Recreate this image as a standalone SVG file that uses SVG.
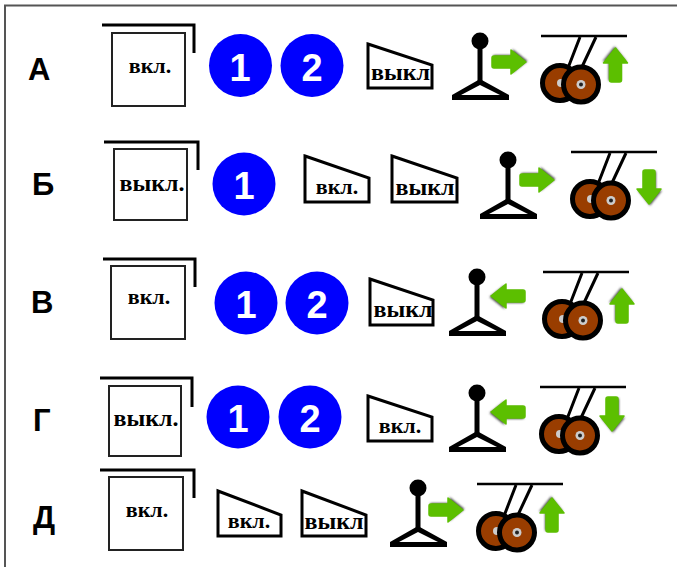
<svg xmlns="http://www.w3.org/2000/svg" width="677" height="567" viewBox="0 0 677 567">
<style>
.row{font-family:"Liberation Sans",Arial,sans-serif;font-weight:700;font-size:31px;fill:#000}
.num{font-family:"Liberation Sans",Arial,sans-serif;font-weight:700;font-size:38px;fill:#fff;text-anchor:middle}
.lbl{font-family:"Liberation Serif","Times New Roman",serif;font-weight:700;font-size:22px;fill:#000;text-anchor:middle}
.wide{font-size:24px}
.dot{fill:#0000fe}
.hood{fill:none;stroke:#000;stroke-width:3}
.box{fill:#fff;stroke:#222;stroke-width:2}
.wedge{fill:#fff;stroke:#000;stroke-width:3}
.frame{fill:none;stroke:#555;stroke-width:2}
</style>
<defs>
<filter id="soft" x="-20%" y="-20%" width="140%" height="140%"><feGaussianBlur stdDeviation="1"/></filter>
<g id="arrow">
<path d="M-17-6H2V-12L17 0 2 12V6H-17Z" fill="#444" filter="url(#soft)" transform="translate(1.5,-1)"/>
<path d="M-15-6H2V-12L17 0 2 12V6H-15Q-17 6-17 4V-4Q-17-6-15-6Z" fill="#5cbf00" stroke="#5cbf00" stroke-width="1.5" stroke-linejoin="round"/>
</g>
<g id="lever">
<circle cx="0" cy="0" r="8.5" fill="#000"/>
<path d="M0 0V41" stroke="#000" stroke-width="5" fill="none"/>
<path fill-rule="evenodd" d="M-28 59V54L0 38 29 54V59ZM-19 54H20L0 44Z" fill="#000"/>
</g>
<g id="gear">
<path d="M0 0H86" stroke="#000" stroke-width="2.5"/>
<path d="M39 1 27 32M55 1 40 33" stroke="#000" stroke-width="3" fill="none"/>
<circle cx="19" cy="47" r="17.5" fill="#993d00" stroke="#000" stroke-width="5"/>
<circle cx="20" cy="47" r="4" fill="#ccc"/>
<circle cx="40" cy="48.500" r="17.500" fill="#993d00" stroke="#000" stroke-width="5"/>
<circle cx="40" cy="48.500" r="4.500" fill="#ccc"/>
<circle cx="40" cy="48.500" r="2" fill="#222"/>
</g>
</defs>
<rect width="677" height="567" fill="#fff"/>
<path class="frame" d="M677 5.500H5V567"/>

<g id="row-a">
<text class="row" x="28" y="80">А</text>
<path class="hood" d="M102 25H194V53"/><rect class="box" x="112" y="33" width="73" height="73"/>
<text class="lbl" x="150" y="73">вкл.</text>
<circle class="dot" cx="240.500" cy="65.500" r="31.500"/><text class="num" x="240" y="81">1</text>
<circle class="dot" cx="312" cy="65.500" r="31.500"/><text class="num" x="312" y="81">2</text>
<path class="wedge" d="M368 44 432 65V88H368Z"/><text class="lbl wide" x="400.500" y="80">выкл</text>
<use href="#lever" x="480" y="41"/><use href="#arrow" transform="translate(509,62)"/>
<use href="#gear" x="541" y="36"/><use href="#arrow" transform="translate(615.500,65) rotate(-90)"/>
</g>

<g id="row-b">
<text class="row" x="32" y="195">Б</text>
<path class="hood" d="M104 142H198V170"/><rect class="box" x="114" y="149" width="73" height="71"/>
<text class="lbl wide" x="152" y="191">выкл.</text>
<circle class="dot" cx="244" cy="184" r="31.500"/><text class="num" x="244" y="199">1</text>
<path class="wedge" d="M305 156 369 178V202H305Z"/><text class="lbl" x="337" y="194">вкл.</text>
<path class="wedge" d="M392 156 457 178V202H392Z"/><text class="lbl wide" x="425" y="195">выкл</text>
<use href="#lever" x="508" y="160"/><use href="#arrow" transform="translate(537,180)"/>
<use href="#gear" x="571" y="152"/><use href="#arrow" transform="translate(649,187) rotate(90)"/>
</g>

<g id="row-c">
<text class="row" x="31" y="313">В</text>
<path class="hood" d="M103 259H195V287"/><rect class="box" x="111" y="266" width="74" height="73"/>
<text class="lbl" x="149" y="304">вкл.</text>
<circle class="dot" cx="246" cy="303" r="31.500"/><text class="num" x="246" y="318">1</text>
<circle class="dot" cx="317" cy="303" r="31.500"/><text class="num" x="317" y="318">2</text>
<path class="wedge" d="M370 279 433 300V325H370Z"/><text class="lbl wide" x="403" y="317">выкл</text>
<use href="#lever" x="477" y="277"/><use href="#arrow" transform="translate(508,296) rotate(180)"/>
<use href="#gear" x="543" y="272"/><use href="#arrow" transform="translate(622,306) rotate(-90)"/>
</g>

<g id="row-d">
<text class="row" x="33" y="431">Г</text>
<path class="hood" d="M100 378H192V407"/><rect class="box" x="109" y="386" width="72" height="70"/>
<text class="lbl wide" x="146" y="426">выкл.</text>
<circle class="dot" cx="238" cy="417" r="31.500"/><text class="num" x="238" y="432">1</text>
<circle class="dot" cx="310" cy="417" r="31.500"/><text class="num" x="310" y="432">2</text>
<path class="wedge" d="M368 396 432 417V441H368Z"/><text class="lbl" x="400" y="433">вкл.</text>
<use href="#lever" x="477" y="393"/><use href="#arrow" transform="translate(508,412) rotate(180)"/>
<use href="#gear" x="540" y="387"/><use href="#arrow" transform="translate(612,414) rotate(90)"/>
</g>

<g id="row-e">
<text class="row" x="33" y="528">Д</text>
<path class="hood" d="M100 470H194V498"/><rect class="box" x="109" y="477" width="74" height="73"/>
<text class="lbl" x="147" y="517">вкл.</text>
<path class="wedge" d="M218 491 281 515V536H218Z"/><text class="lbl" x="249" y="528">вкл.</text>
<path class="wedge" d="M302 491 366 515V536H302Z"/><text class="lbl wide" x="334" y="529">выкл</text>
<use href="#lever" x="418" y="488"/><use href="#arrow" transform="translate(446,510)"/>
<use href="#gear" x="477" y="484"/><use href="#arrow" transform="translate(552,515) rotate(-90)"/>
</g>
</svg>
